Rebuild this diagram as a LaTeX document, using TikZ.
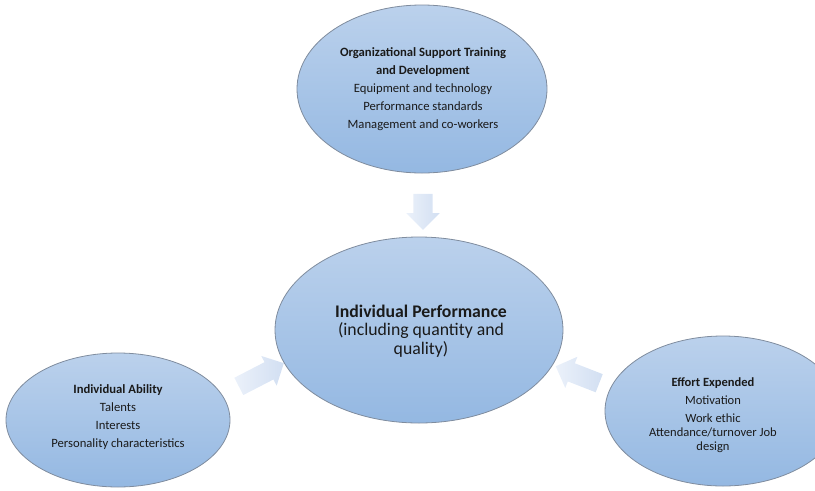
\documentclass[tikz,border=0pt]{standalone}
\usepackage{fontspec}
\setmainfont{Carlito}
\usetikzlibrary{shapes.geometric,shapes.arrows}

\definecolor{bubbletop}{HTML}{BBD1EC}
\definecolor{bubblebot}{HTML}{94B8E2}
\definecolor{bubbleline}{HTML}{7F8C9E}
\definecolor{arrowtail}{HTML}{EBF1FA}
\definecolor{arrowtip}{HTML}{D2DFF2}
\definecolor{ink}{HTML}{1A1A1A}

\tikzset{
  bubble/.style={ellipse, draw=bubbleline, line width=0.6pt,
    top color=bubbletop, bottom color=bubblebot, inner sep=0pt},
  bubbletext/.style={align=center, text=ink, inner sep=0pt},
  smalltext/.style={bubbletext, font=\fontsize{9.5}{13.5}\selectfont},
  blockarrow/.style={single arrow, draw=none, inner xsep=0pt, inner ysep=7.1pt,
    single arrow head extend=5.25pt,
    left color=arrowtail, right color=arrowtip},
}

\begin{document}
\begin{tikzpicture}[x=0.75pt, y=-0.75pt]
  \useasboundingbox (0,0) rectangle (815,490);
  \clip (0,0) rectangle (815,490);

  % the four bubbles
  \node[bubble, minimum width=187.5pt, minimum height=126pt] (org)  at (422,89)  {};
  \node[bubble, minimum width=216pt,   minimum height=139.5pt] (perf) at (419,330) {};
  \node[bubble, minimum width=168pt,   minimum height=100.5pt] (abil) at (118,420) {};
  \node[bubble, minimum width=177pt,   minimum height=112.5pt] (eff)  at (723,411) {};

  % texts
  \node[smalltext] (orgtxt) at (423,89)
    {\textbf{Organizational Support Training}\\
     \textbf{and Development}\\
     Equipment and technology\\
     Performance standards\\
     Management and co-workers};

  \node[bubbletext, font=\fontsize{13.3}{13.8}\selectfont] (perftxt) at (421,331)
    {\textbf{Individual Performance}\\
     (including quantity and\\
     quality)};

  \node[smalltext] (abiltxt) at (118,417)
    {\textbf{Individual Ability}\\
     Talents\\
     Interests\\
     Personality characteristics};

  \node[bubbletext, font=\fontsize{9.4}{10.5}\selectfont] (efftxt) at (713,415)
    {\textbf{Effort Expended}\\[3pt]
     Motivation\\[3pt]
     Work ethic\\
     Attendance/turnover Job\\
     design};

  % block arrows pointing at the central bubble
  \node[blockarrow, minimum height=27pt,  rotate=-90]   (adown)  at (423,207)   {};
  \node[blockarrow, minimum height=38pt,  rotate=27.3]  (aleft)  at (257,377)   {};
  \node[blockarrow, minimum height=35pt,  rotate=158.7] (aright) at (582,376.5) {};
\end{tikzpicture}
\end{document}
